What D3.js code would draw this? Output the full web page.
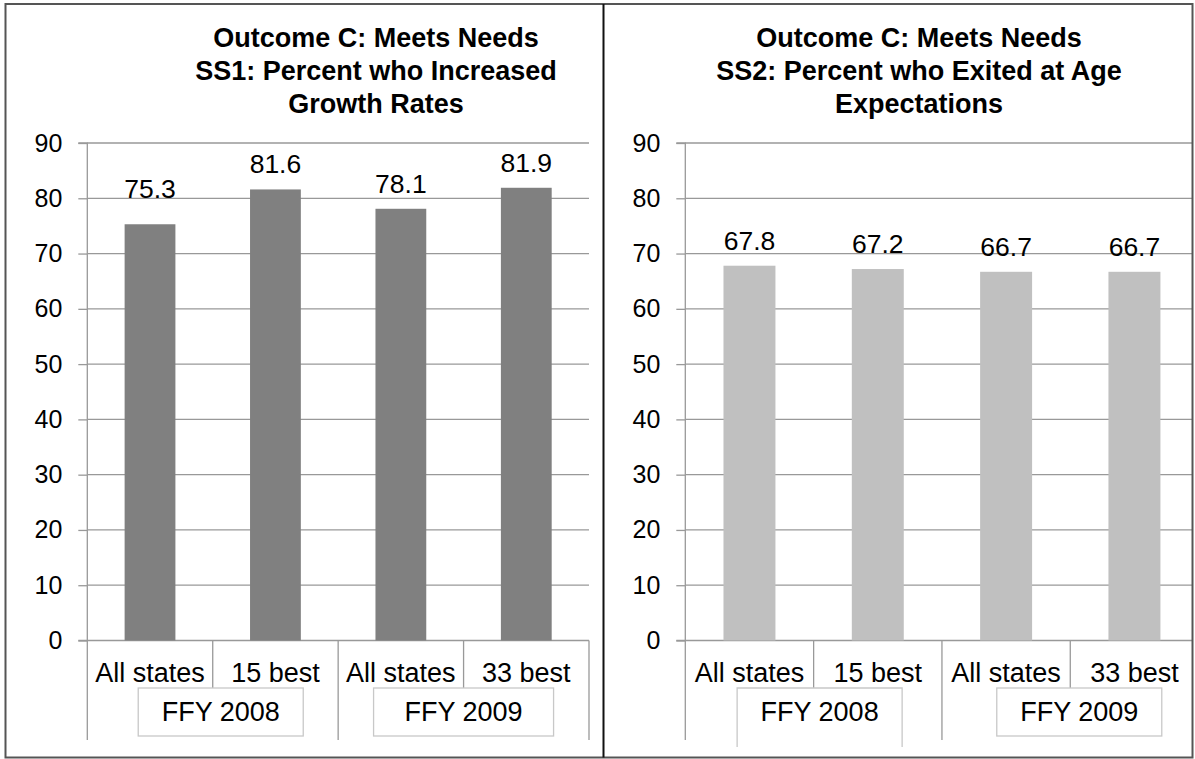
<!DOCTYPE html>
<html>
<head>
<meta charset="utf-8">
<script src="https://cdn.jsdelivr.net/npm/d3@7"></script>
<style>
  html, body { margin: 0; padding: 0; background: #fff; }
  svg { display: block; font-family: "Liberation Sans", Arial, sans-serif; }
</style>
</head>
<body>
<svg id="chart" width="1195" height="759"></svg>
<script>
// ---------- data ----------
const ss1Categories = ["All states", "15 best", "All states", "33 best"];
const ss2Categories = ["All states", "15 best", "All states", "33 best"];
const groupLabels = ["FFY 2008", "FFY 2009"];
const ss1Values = [75.3, 81.6, 78.1, 81.9];
const ss2Values = [67.8, 67.2, 66.7, 66.7];
const yTickValues = [0, 10, 20, 30, 40, 50, 60, 70, 80, 90];
const ss1Title = ["Outcome C: Meets Needs", "SS1: Percent who Increased", "Growth Rates"];
const ss2Title = ["Outcome C: Meets Needs", "SS2: Percent who Exited at Age", "Expectations"];

// ---------- layout ----------
const svg = d3.select("#chart");
const W = 1195, H = 759;
const yTop = 143, yBottom = 640.5;

const panels = [
  {
    clipX0: 6, clipX1: 603,
    plotX0: 87.3, plotX1: 589,
    titleX: 376, title: ss1Title,
    categories: ss1Categories, values: ss1Values,
    color: "#808080",
    labelLift: [26, 16, 16, 16],
    boxes: [{dx: 8, w: 165, open: false}, {dx: 0, w: 180, open: false}]
  },
  {
    clipX0: 604, clipX1: 1192,
    plotX0: 685.3, plotX1: 1198.6,
    titleX: 919, title: ss2Title,
    categories: ss2Categories, values: ss2Values,
    color: "#c0c0c0",
    labelLift: [16, 16, 16, 16],
    boxes: [{dx: 6, w: 165, open: true}, {dx: 9, w: 165, open: false}]
  }
];

const defs = svg.append("defs");

panels.forEach((p, pi) => {
  defs.append("clipPath").attr("id", "clip" + pi)
    .append("rect").attr("x", p.clipX0).attr("y", 0)
    .attr("width", p.clipX1 - p.clipX0).attr("height", H);

  const g = svg.append("g").attr("clip-path", `url(#clip${pi})`);

  const x = d3.scaleBand().domain(d3.range(p.categories.length))
    .range([p.plotX0, p.plotX1]).paddingInner(0).paddingOuter(0);
  const y = d3.scaleLinear().domain([0, 90]).range([yBottom, yTop]);

  // title
  const t = g.append("text")
    .attr("text-anchor", "middle")
    .attr("font-weight", "bold")
    .attr("font-size", 27)
    .attr("fill", "#000");
  p.title.forEach((line, i) => {
    t.append("tspan").attr("x", p.titleX).attr("y", 47 + i * 33).text(line);
  });

  // gridlines
  g.append("g").selectAll("line").data(yTickValues).join("line")
    .attr("x1", p.plotX0).attr("x2", p.plotX1)
    .attr("y1", d => y(d)).attr("y2", d => y(d))
    .attr("stroke", "#999").attr("stroke-width", 1.3);

  // y axis
  const yAxis = d3.axisLeft(y).tickValues(yTickValues).tickSize(9).tickPadding(16)
    .tickFormat(d3.format("d"));
  const ya = g.append("g").attr("transform", `translate(${p.plotX0},0)`).call(yAxis);
  ya.select(".domain").attr("stroke", "#999").attr("stroke-width", 1.3)
    .attr("d", `M-9,${yTop}H0V${yBottom}H-9`);
  ya.selectAll(".tick line").attr("stroke", "#999").attr("stroke-width", 1.3);
  ya.selectAll(".tick text").attr("font-size", 25).attr("fill", "#000")
    .attr("font-family", "Liberation Sans, Arial, sans-serif");

  // bars
  const barW = x.bandwidth() * 0.405;
  g.append("g").selectAll("rect").data(p.values).join("rect")
    .attr("x", (d, i) => x(i) + (x.bandwidth() - barW) / 2)
    .attr("y", d => y(d))
    .attr("width", barW)
    .attr("height", d => y(0) - y(d))
    .attr("fill", p.color);

  // value labels
  g.append("g").selectAll("text").data(p.values).join("text")
    .attr("x", (d, i) => x(i) + x.bandwidth() / 2)
    .attr("y", (d, i) => y(d) - p.labelLift[i])
    .attr("text-anchor", "middle")
    .attr("font-size", 26.5)
    .attr("fill", "#000")
    .text(d => d3.format(".1f")(d));

  // category axis separators
  const sep = g.append("g").attr("stroke", "#999").attr("stroke-width", 1.3);
  const n = p.categories.length;
  for (let i = 0; i <= n; i++) {
    const xx = i < n ? x(i) : p.plotX1;
    const isGroup = i % 2 === 0;
    sep.append("line")
      .attr("x1", xx).attr("x2", xx)
      .attr("y1", yBottom).attr("y2", isGroup ? 740 : 688);
  }

  // category labels
  g.append("g").selectAll("text").data(p.categories).join("text")
    .attr("x", (d, i) => x(i) + x.bandwidth() / 2)
    .attr("y", 681.5)
    .attr("text-anchor", "middle")
    .attr("font-size", 27)
    .attr("fill", "#000")
    .text(d => d);

  // group label boxes
  groupLabels.forEach((lab, gi) => {
    const gx0 = x(gi * 2);
    const gx1 = gi * 2 + 2 < n ? x(gi * 2 + 2) : p.plotX1;
    const cx = (gx0 + gx1) / 2 + p.boxes[gi].dx;
    const bw = p.boxes[gi].w;
    const bx0 = cx - bw / 2, bx1 = cx + bw / 2;
    const bg = g.append("g");
    if (p.boxes[gi].open) {
      bg.append("path")
        .attr("d", `M${bx0},747V688H${bx1}V747`)
        .attr("fill", "#fff").attr("stroke", "#c8c8c8").attr("stroke-width", 1.3);
    } else {
      bg.append("rect")
        .attr("x", bx0).attr("y", 688).attr("width", bw).attr("height", 48)
        .attr("fill", "#fff").attr("stroke", "#c8c8c8").attr("stroke-width", 1.3);
    }
    bg.append("text")
      .attr("x", cx).attr("y", 721)
      .attr("text-anchor", "middle")
      .attr("font-size", 27)
      .attr("fill", "#000")
      .text(lab);
  });
});

// frame
const frame = svg.append("g").attr("fill", "none");
frame.append("rect").attr("x", 5.5).attr("y", 4).attr("width", 1187).attr("height", 753.5)
  .attr("stroke", "#555").attr("stroke-width", 2);
frame.append("line").attr("x1", 603.5).attr("x2", 603.5).attr("y1", 4).attr("y2", 757.5)
  .attr("stroke", "#111").attr("stroke-width", 2);
</script>
</body>
</html>
